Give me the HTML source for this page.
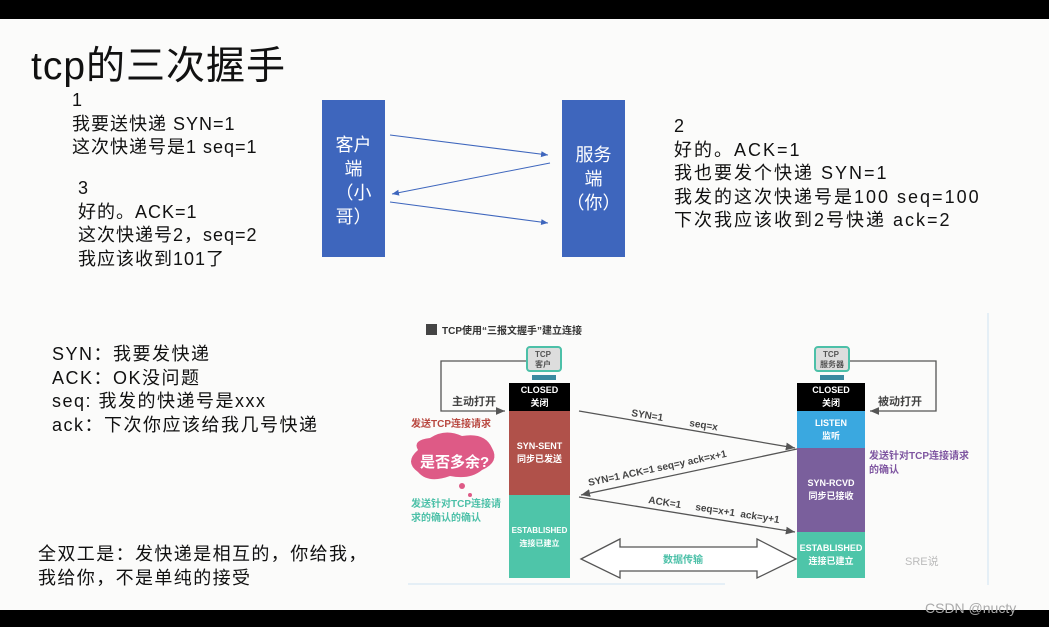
<!DOCTYPE html>
<html><head><meta charset="utf-8"><style>
*{margin:0;padding:0}
body{width:1049px;height:627px;background:#fbfbfa;position:relative;overflow:hidden;font-family:"Liberation Sans","Noto Sans CJK SC",sans-serif;color:#111}
.a{position:absolute;white-space:nowrap}
.t{font-size:18px;line-height:23.5px;letter-spacing:1px}
.col{position:absolute;color:#fff;font-size:9px;font-weight:bold;text-align:center;display:flex;flex-direction:column;justify-content:center;line-height:13px}
</style></head><body>
<div class="a" style="left:0;top:0;width:1049px;height:19px;background:#000"></div>
<div class="a" style="left:0;top:610px;width:1049px;height:17px;background:#000"></div>
<div class="a" style="left:31px;top:43px;font-size:39px;line-height:48px;letter-spacing:1px">tcp的三次握手</div>
<div class="a t" style="left:72px;top:89px">1<br>我要送快递 SYN=1<br>这次快递号是1 seq=1</div>
<div class="a t" style="left:78px;top:177px">3<br>好的。ACK=1<br>这次快递号2，seq=2<br>我应该收到101了</div>
<div class="a t" style="left:674px;top:115px;letter-spacing:2px">2<br>好的。ACK=1<br>我也要发个快递 SYN=1<br>我发的这次快递号是100 seq=100<br>下次我应该收到2号快递 ack=2</div>
<div class="a t" style="left:52px;top:343px;letter-spacing:1.5px">SYN：我要发快递<br>ACK：OK没问题<br>seq: 我发的快递号是xxx<br>ack：下次你应该给我几号快递</div>
<div class="a t" style="left:38px;top:543px;letter-spacing:1.4px">全双工是：发快递是相互的，你给我，<br>我给你，不是单纯的接受</div>
<div class="a" style="left:322px;top:100px;width:63px;height:157px;background:#3e66bd;color:#fff;font-size:18px;line-height:24px;text-align:center;padding-top:33px;box-sizing:border-box">客户<br>端<br>（小<br>哥）</div>
<div class="a" style="left:562px;top:100px;width:63px;height:157px;background:#3e66bd;color:#fff;font-size:18px;line-height:24px;text-align:center;padding-top:43px;box-sizing:border-box">服务<br>端<br>（你）</div>
<svg class="a" style="left:0;top:0" width="1049" height="627">
<defs><marker id="m" markerWidth="8" markerHeight="8" refX="7" refY="4" orient="auto"><path d="M0,1 L7,4 L0,7z" fill="#3e66bd"/></marker>
<marker id="k" markerWidth="8" markerHeight="8" refX="7" refY="4" orient="auto"><path d="M0,1 L7,4 L0,7z" fill="#555"/></marker></defs>
<g stroke="#3e66bd" stroke-width="1" marker-end="url(#m)"><line x1="390" y1="135" x2="548" y2="155"/><line x1="550" y1="163" x2="392" y2="194"/><line x1="390" y1="202" x2="548" y2="223"/></g>
<line x1="408" y1="584" x2="725" y2="584" stroke="#cfe3f3"/>
<line x1="988" y1="313" x2="988" y2="585" stroke="#cfe3f3"/>
<rect x="426" y="324" width="11" height="11" fill="#444"/>
<g fill="none" stroke="#555" stroke-width="1.3"><path d="M527,361 H441 V411 H505" marker-end="url(#k)"/><path d="M849,361 H936 V411 H870" marker-end="url(#k)"/>
<line x1="579" y1="411" x2="795" y2="448" marker-end="url(#k)"/><line x1="797" y1="449" x2="581" y2="495" marker-end="url(#k)"/><line x1="579" y1="497" x2="795" y2="532" marker-end="url(#k)"/>
<path d="M581,559 L620,539 V547 H757 V539 L796,559 L757,578 V571 H620 V578 Z" fill="#fff"/></g>
<rect x="527" y="347" width="34" height="24" rx="3" fill="#ddd" stroke="#4cc0a8" stroke-width="2"/><rect x="532" y="375" width="24" height="5" fill="#3a8aa0"/>
<rect x="815" y="347" width="34" height="24" rx="3" fill="#ddd" stroke="#4cc0a8" stroke-width="2"/><rect x="820" y="375" width="24" height="5" fill="#3a8aa0"/>
<path d="M418,450 Q412,440 430,438 Q445,428 462,436 Q485,432 492,448 Q500,462 482,470 Q470,480 450,476 Q428,484 418,472 Q404,462 418,450Z" fill="#de5a86"/>
<circle cx="462" cy="486" r="3" fill="#de5a86"/><circle cx="470" cy="495" r="2" fill="#de5a86"/>
<g font-family="Liberation Sans,Noto Sans CJK SC,sans-serif" font-size="10" fill="#444" font-weight="bold">
<text x="442" y="334" fill="#333">TCP使用“三报文握手”建立连接</text>
<text x="452" y="405" font-size="11">主动打开</text><text x="878" y="405" font-size="11">被动打开</text>
<text x="631" y="416" transform="rotate(9 631 416)">SYN=1</text><text x="689" y="426" transform="rotate(9 689 426)">seq=x</text>
<text x="589" y="486" transform="rotate(-12 589 486)">SYN=1  ACK=1  seq=y  ack=x+1</text>
<text x="648" y="503" transform="rotate(9 648 503)">ACK=1</text><text x="695" y="510" transform="rotate(9 695 510)">seq=x+1</text><text x="740" y="517" transform="rotate(9 740 517)">ack=y+1</text>
<text x="663" y="563" fill="#4cc0a8">数据传输</text>
<text x="411" y="427" fill="#b8473f">发送TCP连接请求</text>
<text x="411" y="507" fill="#4cc0a8">发送针对TCP连接请</text><text x="411" y="521" fill="#4cc0a8">求的确认的确认</text>
<text x="869" y="459" fill="#7e55a0">发送针对TCP连接请求</text><text x="869" y="473" fill="#7e55a0">的确认</text>
<text x="420" y="467" font-size="15" fill="#fff">是否多余?</text>
<text x="535" y="357" font-size="8" fill="#555">TCP</text><text x="535" y="367" font-size="8" fill="#555">客户</text>
<text x="823" y="357" font-size="8" fill="#555">TCP</text><text x="820" y="367" font-size="8" fill="#555">服务器</text>
<text x="905" y="565" font-size="11" fill="#bbb" font-weight="normal">SRE说</text>
<text x="925" y="613" font-size="14" fill="#aaa" font-weight="normal">CSDN @nucty</text>
</g></svg>
<div class="col" style="left:509px;top:383px;width:61px;height:28px;background:#000">CLOSED<br>关闭</div>
<div class="col" style="left:509px;top:411px;width:61px;height:84px;background:#b0514a">SYN-SENT<br>同步已发送</div>
<div class="col" style="left:509px;top:495px;width:61px;height:83px;background:#4ec5a9;font-size:8px">ESTABLISHED<br>连接已建立</div>
<div class="col" style="left:797px;top:383px;width:68px;height:28px;background:#000">CLOSED<br>关闭</div>
<div class="col" style="left:797px;top:411px;width:68px;height:37px;background:#3aa8e0">LISTEN<br>监听</div>
<div class="col" style="left:797px;top:448px;width:68px;height:84px;background:#7a5f9c">SYN-RCVD<br>同步已接收</div>
<div class="col" style="left:797px;top:532px;width:68px;height:46px;background:#4ec5a9">ESTABLISHED<br>连接已建立</div>
</body></html>
